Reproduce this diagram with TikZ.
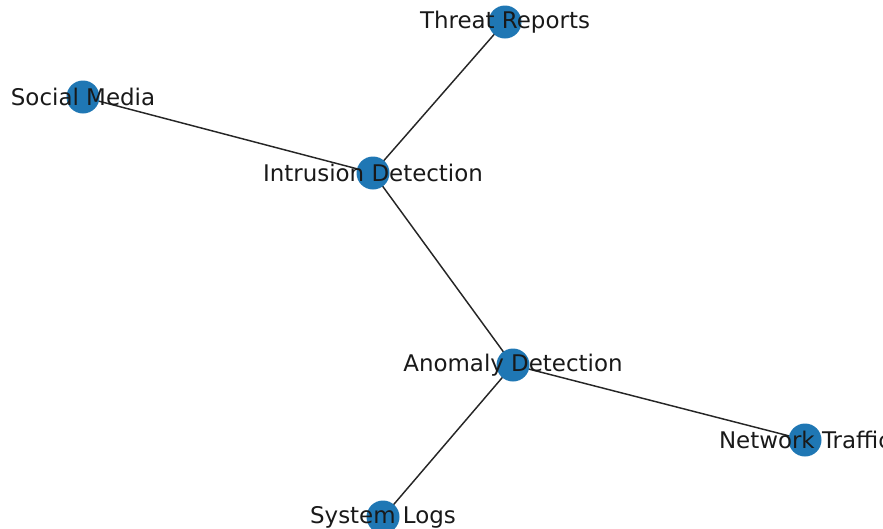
\documentclass[tikz,border=0pt]{standalone}
\usepackage{fontspec}
\setmainfont{DejaVu Sans}
\definecolor{nodeblue}{HTML}{1F77B4}

\newlength{\pxu}
\setlength{\pxu}{0.75pt}
\tikzset{
  spot/.style={circle,fill=nodeblue,draw=none,minimum size=33\pxu,inner sep=0pt},
  tag/.style={font=\fontsize{17.2pt}{20pt}\selectfont,text=black!90,inner sep=0pt},
  link/.style={draw=black!85,line width=1.1pt}
}

\begin{document}
\begin{tikzpicture}[x=0.75pt,y=-0.75pt]
            \useasboundingbox (0,0) rectangle (883,529);
            \clip (0,0) rectangle (883,529);

            \coordinate (threat) at (505,22);
            \coordinate (social) at (83,97);
            \coordinate (intrusion) at (373,173);
            \coordinate (anomaly) at (513,365);
            \coordinate (network) at (805,440);
            \coordinate (syslogs) at (383,517);

            \draw[link] (threat) -- (intrusion);
            \draw[link] (social) -- (intrusion);
            \draw[link] (intrusion) -- (anomaly);
            \draw[link] (anomaly) -- (network);
            \draw[link] (anomaly) -- (syslogs);

            \foreach \n in {threat,social,intrusion,anomaly,network,syslogs}
                \node[spot] (\n-dot) at (\n) {};

            \node[tag] (threat-lbl) at (threat) {Threat Reports};
            \node[tag] (social-lbl) at (social) {Social Media};
            \node[tag] (intrusion-lbl) at (intrusion) {Intrusion Detection};
            \node[tag] (anomaly-lbl) at (anomaly) {Anomaly Detection};
            \node[tag] (network-lbl) at (network) {Network Traffic};
            \node[tag] (syslogs-lbl) at (syslogs) {System Logs};
        \end{tikzpicture}
\end{document}
